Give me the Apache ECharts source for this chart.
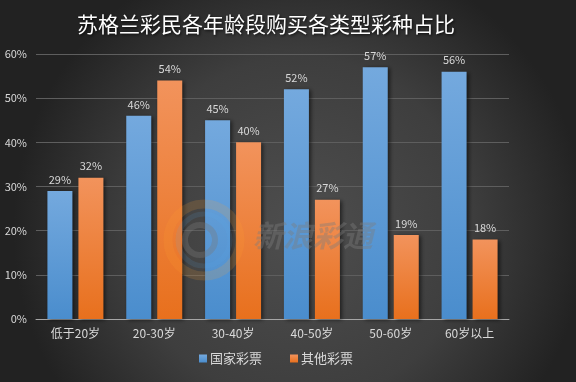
<!DOCTYPE html>
<html>
<head>
<meta charset="utf-8">
<script src="https://cdn.jsdelivr.net/npm/echarts@6/dist/echarts.min.js"></script>
<style>
  html, body { margin: 0; padding: 0; }
  #chart { width: 576px; height: 382px; }
</style>
</head>
<body>
<div id="chart"></div>
<script>
const categories = ['低于20岁', '20-30岁', '30-40岁', '40-50岁', '50-60岁', '60岁以上'];
const nationalLottery = [29, 46, 45, 52, 57, 56];
const otherLottery = [32, 54, 40, 27, 19, 18];
const seriesNames = ['国家彩票', '其他彩票'];

const font = '"Noto Sans CJK SC", "Noto Sans", sans-serif';
const textColor = '#d9d9d9';

const barShadow = {
    shadowColor: 'rgba(0,0,0,0.55)',
    shadowBlur: 4,
    shadowOffsetX: 2,
    shadowOffsetY: 1
};

const makeSeries = (name, data, top, bottom) => ({
    name: name,
    type: 'bar',
    data: data,
    barWidth: 25,
    barGap: '24%',
    itemStyle: {
        color: new echarts.graphic.LinearGradient(0, 0, 0, 1, [
            { offset: 0, color: top },
            { offset: 1, color: bottom }
        ]),
        ...barShadow
    },
    label: {
        show: true,
        position: 'top',
        distance: 6,
        formatter: '{c}%',
        color: textColor,
        fontSize: 11,
        fontFamily: font
    }
});

const chart = echarts.init(document.getElementById('chart'));
chart.setOption({
    animation: false,
    backgroundColor: new echarts.graphic.RadialGradient(0.52, 0.6, 0.75, [
        { offset: 0, color: '#4e4e4e' },
        { offset: 0.6, color: '#3e3e3e' },
        { offset: 1, color: '#222222' }
    ]),
    title: {
        text: '苏格兰彩民各年龄段购买各类型彩种占比',
        left: 261,
        top: 9,
        textAlign: 'center',
        textStyle: {
            color: '#ffffff',
            fontSize: 21,
            fontWeight: 'normal',
            fontFamily: font,
            textShadowColor: 'rgba(0,0,0,0.85)',
            textShadowBlur: 3,
            textShadowOffsetX: 1,
            textShadowOffsetY: 1
        }
    },
    graphic: [
        {
            type: 'circle',
            shape: { cx: 204, cy: 240, r: 36 },
            style: { fill: 'none', stroke: 'rgba(255,160,50,0.16)', lineWidth: 9 },
            z: 10
        },
        {
            type: 'circle',
            shape: { cx: 204, cy: 240, r: 26 },
            style: { fill: 'none', stroke: 'rgba(90,170,240,0.12)', lineWidth: 5 },
            z: 10
        },
        {
            type: 'circle',
            shape: { cx: 200, cy: 240, r: 15 },
            style: { fill: 'none', stroke: 'rgba(120,120,120,0.35)', lineWidth: 6 },
            z: 10
        },
        {
            type: 'text',
            left: 253,
            top: 221,
            style: {
                text: '新浪彩通',
                fill: 'rgba(125,125,125,0.4)',
                font: 'italic bold 30px ' + font
            },
            z: 10
        }
    ],
    legend: {
        data: seriesNames,
        bottom: 12,
        left: 194,
        itemWidth: 8,
        itemHeight: 8,
        itemGap: 28,
        icon: 'rect',
        textStyle: { color: textColor, fontSize: 13, fontFamily: font, padding: [0, 0, 0, -2] }
    },
    grid: {
        left: 36,
        right: 67,
        top: 54,
        bottom: 63,
        containLabel: false
    },
    xAxis: {
        type: 'category',
        data: categories,
        axisLine: { lineStyle: { color: '#a6a6a6', width: 1 } },
        axisTick: { show: false },
        axisLabel: { color: textColor, fontSize: 12, fontFamily: font, margin: 8 }
    },
    yAxis: {
        type: 'value',
        min: 0,
        max: 60,
        interval: 10,
        axisLine: { show: false },
        axisTick: { show: false },
        axisLabel: { formatter: '{value}%', color: textColor, fontSize: 11, fontFamily: font, margin: 9 },
        splitLine: { lineStyle: { color: '#5e5e5e', width: 1 } }
    },
    series: [
        makeSeries(seriesNames[0], nationalLottery, '#74a9de', '#4a8dcd'),
        makeSeries(seriesNames[1], otherLottery, '#f2935c', '#e8701d')
    ]
});
</script>
</body>
</html>
